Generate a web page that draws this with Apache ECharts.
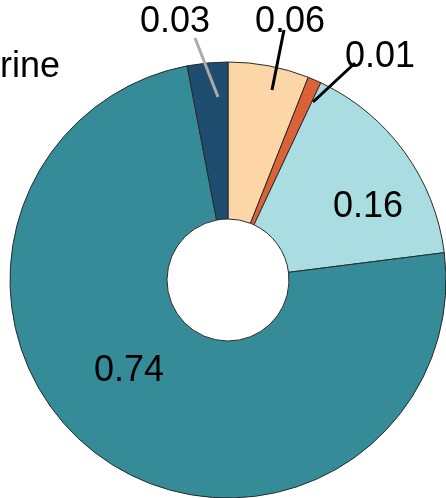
<!DOCTYPE html>
<html>
<head>
<meta charset="utf-8">
<script src="https://cdn.jsdelivr.net/npm/echarts@6/dist/echarts.min.js"></script>
<style>
  html, body { margin: 0; padding: 0; background: #fff; }
  #chart { width: 446px; height: 498px; }
</style>
</head>
<body>
<div id="chart"></div>
<script>
// Share of each category, clockwise from 12 o'clock
const categories = ['A', 'B', 'C', 'D', 'E'];
const shares = [0.06, 0.01, 0.16, 0.74, 0.03];
const sliceColors = ['#fcd6a6', '#db6138', '#aadde2', '#358c98', '#1e4d6f'];
const titleText = 'Marine';

// Callout layout for the thin slices: label centre, line start (inside slice), line end
const calloutLayout = {
  0: { at: [290, 22], from: [272, 90], to: [284, 30] },
  1: { at: [380, 57], from: [313, 102], to: [355, 63] },
  4: { at: [175, 22], from: [218, 97], to: [195, 38] }
};
const insideSpots = { 2: [368, 207], 3: [129, 371] };

const chart = echarts.init(document.getElementById('chart'), null, { renderer: 'canvas' });
const CX = 228, CY = 280, R0 = 61, R1 = 218;

const pieBase = {
  type: 'pie',
  center: [CX, CY],
  radius: [R0, R1],
  startAngle: 90,
  clockwise: true,
  avoidLabelOverlap: false,
  silent: true
};

// Filled donut underneath
const ringData = shares.map((v, i) => ({
  name: categories[i],
  value: v,
  itemStyle: { color: sliceColors[i] }
}));

// Transparent copy on top carrying labels and callout lines
const labelData = shares.map((v, i) => {
  const inside = !!insideSpots[i];
  return {
    name: categories[i],
    value: v,
    label: { position: inside ? 'inside' : 'outside' },
    labelLine: {
      show: !inside,
      lineStyle: { color: i === 4 ? '#aaaaaa' : '#000000', width: 3 }
    }
  };
});

chart.setOption({
  animation: false,
  title: {
    text: titleText,
    left: -55,
    top: 44,
    textStyle: { fontFamily: 'Liberation Sans', fontSize: 36, fontWeight: 'normal', color: '#000' }
  },
  series: [
    Object.assign({}, pieBase, {
      z: 1,
      itemStyle: { borderColor: '#2a2a2a', borderWidth: 1 },
      label: { show: false },
      labelLine: { show: false },
      data: ringData
    }),
    Object.assign({}, pieBase, {
      z: 5,
      itemStyle: { color: 'rgba(0,0,0,0)', borderWidth: 0 },
      label: {
        formatter: p => p.value.toFixed(2),
        fontFamily: 'Liberation Sans',
        fontSize: 36,
        color: '#000'
      },
      labelLine: { show: true, length: 10, length2: 10 },
      labelLayout: function (p) {
        const i = p.dataIndex;
        if (insideSpots[i]) {
          return { x: insideSpots[i][0], y: insideSpots[i][1], align: 'center', verticalAlign: 'middle' };
        }
        const c = calloutLayout[i];
        if (!c) return;
        return {
          x: c.at[0], y: c.at[1], align: 'center', verticalAlign: 'middle',
          labelLinePoints: [c.from, c.to, c.to]
        };
      },
      data: labelData
    })
  ]
});
</script>
</body>
</html>
